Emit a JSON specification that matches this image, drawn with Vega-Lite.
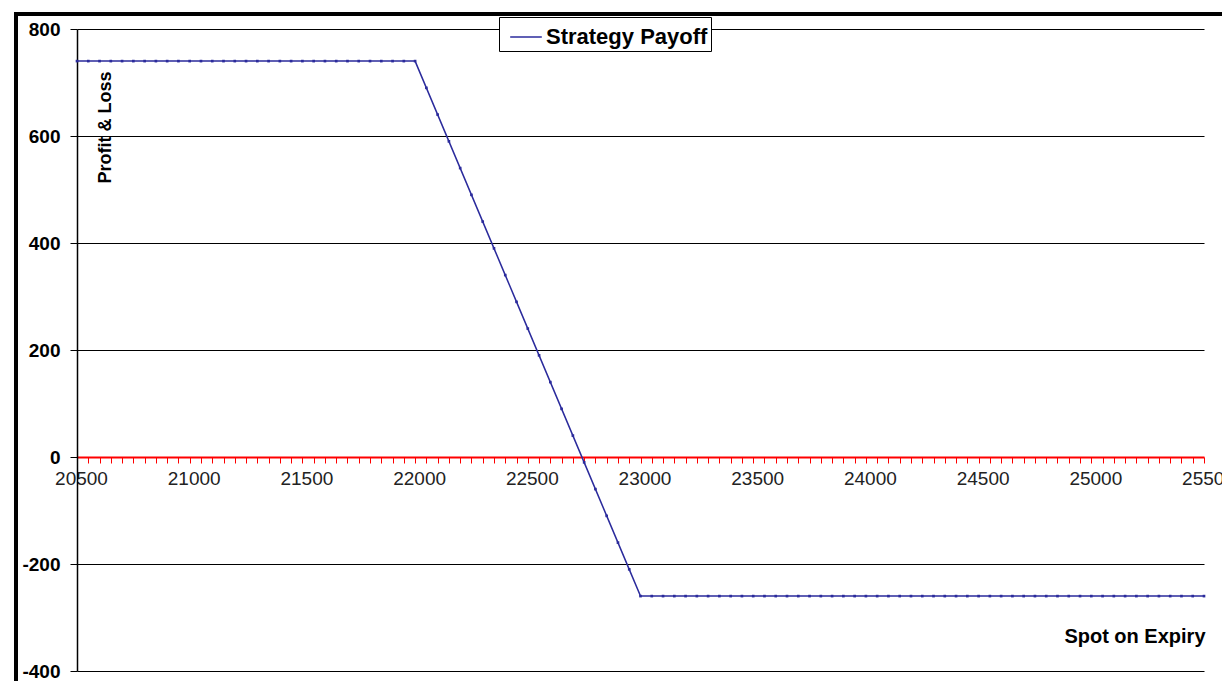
{
  "$schema": "https://vega.github.io/schema/vega-lite/v6.json",
  "autosize": {"type": "none"},
  "padding": {"left": 16, "top": 14, "right": 0, "bottom": 0},
  "width": 1206,
  "height": 667,
  "background": "white",
  "config": {
    "view": {"stroke": "black", "strokeWidth": 4, "strokeDash": [1206, 1873, 667]},
    "font": "Liberation Sans"
  },
  "data": {
    "values": [
      {"spot": 20500, "pnl": 740}, {"spot": 20550, "pnl": 740}, {"spot": 20600, "pnl": 740}, {"spot": 20650, "pnl": 740},
      {"spot": 20700, "pnl": 740}, {"spot": 20750, "pnl": 740}, {"spot": 20800, "pnl": 740}, {"spot": 20850, "pnl": 740},
      {"spot": 20900, "pnl": 740}, {"spot": 20950, "pnl": 740}, {"spot": 21000, "pnl": 740}, {"spot": 21050, "pnl": 740},
      {"spot": 21100, "pnl": 740}, {"spot": 21150, "pnl": 740}, {"spot": 21200, "pnl": 740}, {"spot": 21250, "pnl": 740},
      {"spot": 21300, "pnl": 740}, {"spot": 21350, "pnl": 740}, {"spot": 21400, "pnl": 740}, {"spot": 21450, "pnl": 740},
      {"spot": 21500, "pnl": 740}, {"spot": 21550, "pnl": 740}, {"spot": 21600, "pnl": 740}, {"spot": 21650, "pnl": 740},
      {"spot": 21700, "pnl": 740}, {"spot": 21750, "pnl": 740}, {"spot": 21800, "pnl": 740}, {"spot": 21850, "pnl": 740},
      {"spot": 21900, "pnl": 740}, {"spot": 21950, "pnl": 740}, {"spot": 22000, "pnl": 740}, {"spot": 22050, "pnl": 690},
      {"spot": 22100, "pnl": 640}, {"spot": 22150, "pnl": 590}, {"spot": 22200, "pnl": 540}, {"spot": 22250, "pnl": 490},
      {"spot": 22300, "pnl": 440}, {"spot": 22350, "pnl": 390}, {"spot": 22400, "pnl": 340}, {"spot": 22450, "pnl": 290},
      {"spot": 22500, "pnl": 240}, {"spot": 22550, "pnl": 190}, {"spot": 22600, "pnl": 140}, {"spot": 22650, "pnl": 90},
      {"spot": 22700, "pnl": 40}, {"spot": 22750, "pnl": -10}, {"spot": 22800, "pnl": -60}, {"spot": 22850, "pnl": -110},
      {"spot": 22900, "pnl": -160}, {"spot": 22950, "pnl": -210}, {"spot": 23000, "pnl": -260}, {"spot": 23050, "pnl": -260},
      {"spot": 23100, "pnl": -260}, {"spot": 23150, "pnl": -260}, {"spot": 23200, "pnl": -260}, {"spot": 23250, "pnl": -260},
      {"spot": 23300, "pnl": -260}, {"spot": 23350, "pnl": -260}, {"spot": 23400, "pnl": -260}, {"spot": 23450, "pnl": -260},
      {"spot": 23500, "pnl": -260}, {"spot": 23550, "pnl": -260}, {"spot": 23600, "pnl": -260}, {"spot": 23650, "pnl": -260},
      {"spot": 23700, "pnl": -260}, {"spot": 23750, "pnl": -260}, {"spot": 23800, "pnl": -260}, {"spot": 23850, "pnl": -260},
      {"spot": 23900, "pnl": -260}, {"spot": 23950, "pnl": -260}, {"spot": 24000, "pnl": -260}, {"spot": 24050, "pnl": -260},
      {"spot": 24100, "pnl": -260}, {"spot": 24150, "pnl": -260}, {"spot": 24200, "pnl": -260}, {"spot": 24250, "pnl": -260},
      {"spot": 24300, "pnl": -260}, {"spot": 24350, "pnl": -260}, {"spot": 24400, "pnl": -260}, {"spot": 24450, "pnl": -260},
      {"spot": 24500, "pnl": -260}, {"spot": 24550, "pnl": -260}, {"spot": 24600, "pnl": -260}, {"spot": 24650, "pnl": -260},
      {"spot": 24700, "pnl": -260}, {"spot": 24750, "pnl": -260}, {"spot": 24800, "pnl": -260}, {"spot": 24850, "pnl": -260},
      {"spot": 24900, "pnl": -260}, {"spot": 24950, "pnl": -260}, {"spot": 25000, "pnl": -260}, {"spot": 25050, "pnl": -260},
      {"spot": 25100, "pnl": -260}, {"spot": 25150, "pnl": -260}, {"spot": 25200, "pnl": -260}, {"spot": 25250, "pnl": -260},
      {"spot": 25300, "pnl": -260}, {"spot": 25350, "pnl": -260}, {"spot": 25400, "pnl": -260}, {"spot": 25450, "pnl": -260},
      {"spot": 25500, "pnl": -260}
    ]
  },
  "mark": {"type": "line", "strokeWidth": 1.5, "point": {"filled": true, "shape": "square", "size": 7}},
  "encoding": {
    "x": {
      "field": "spot",
      "type": "quantitative",
      "scale": {"domain": [20500, 25500], "range": [61, 1188], "nice": false, "zero": false},
      "axis": {
        "orient": "bottom",
        "offset": -224,
        "grid": false,
        "values": [20500,20550,20600,20650,20700,20750,20800,20850,20900,20950,21000,21050,21100,21150,21200,21250,21300,21350,21400,21450,21500,21550,21600,21650,21700,21750,21800,21850,21900,21950,22000,22050,22100,22150,22200,22250,22300,22350,22400,22450,22500,22550,22600,22650,22700,22750,22800,22850,22900,22950,23000,23050,23100,23150,23200,23250,23300,23350,23400,23450,23500,23550,23600,23650,23700,23750,23800,23850,23900,23950,24000,24050,24100,24150,24200,24250,24300,24350,24400,24450,24500,24550,24600,24650,24700,24750,24800,24850,24900,24950,25000,25050,25100,25150,25200,25250,25300,25350,25400,25450,25500],
        "labelExpr": "datum.value % 500 === 0 ? '' + datum.value : ''",
        "labelOverlap": false,
        "labelFlush": false,
        "labelBound": false,
        "labelFont": "Liberation Sans",
        "labelFontSize": 19,
        "labelColor": "#222222",
        "labelPadding": 6,
        "labelOffset": 4,
        "domainColor": "#ff0000",
        "domainWidth": 2,
        "tickColor": "#ff0000",
        "tickSize": 6,
        "tickWidth": 1,
        "title": "Spot on Expiry",
        "titleFont": "Liberation Sans",
        "titleFontSize": 20,
        "titleFontWeight": "bold",
        "titleColor": "black",
        "titleX": 1189,
        "titleY": 185,
        "titleAlign": "right",
        "titleBaseline": "alphabetic"
      }
    },
    "y": {
      "field": "pnl",
      "type": "quantitative",
      "scale": {"domain": [-400, 800], "range": [657, 15], "nice": false, "zero": false},
      "axis": {
        "orient": "left",
        "offset": -61,
        "values": [-400, -200, 0, 200, 400, 600, 800],
        "labelExpr": "'' + datum.value",
        "grid": true,
        "gridColor": {"condition": {"test": "datum.value === 0", "value": "transparent"}, "value": "black"},
        "gridWidth": 1,
        "gridOpacity": 1,
        "domainColor": "black",
        "domainWidth": 1.5,
        "tickColor": "black",
        "tickSize": 7,
        "tickWidth": 1,
        "labelFont": "Liberation Sans",
        "labelFontSize": 19,
        "labelFontWeight": "bold",
        "labelColor": "black",
        "labelPadding": 10,
        "labelFlush": false,
        "title": "Profit & Loss",
        "titleFont": "Liberation Sans",
        "titleFontSize": 18,
        "titleFontWeight": "bold",
        "titleColor": "black",
        "titleAngle": -90,
        "titleX": 33,
        "titleY": 113,
        "titleAlign": "center",
        "titleBaseline": "alphabetic"
      }
    },
    "color": {
      "datum": "Strategy Payoff",
      "type": "nominal",
      "scale": {"range": ["#2b2b9c"]},
      "legend": {
        "orient": "none",
        "legendX": 483,
        "legendY": 3,
        "title": null,
        "strokeColor": "black",
        "fillColor": "white",
        "padding": 3,
        "symbolType": "stroke",
        "symbolSize": 1000,
        "symbolStrokeWidth": 1.5,
        "symbolOffset": 7,
        "labelOffset": 3,
        "labelLimit": 0,
        "labelFont": "Liberation Sans",
        "labelFontSize": 22,
        "labelFontWeight": "bold",
        "labelColor": "black"
      }
    }
  }
}
